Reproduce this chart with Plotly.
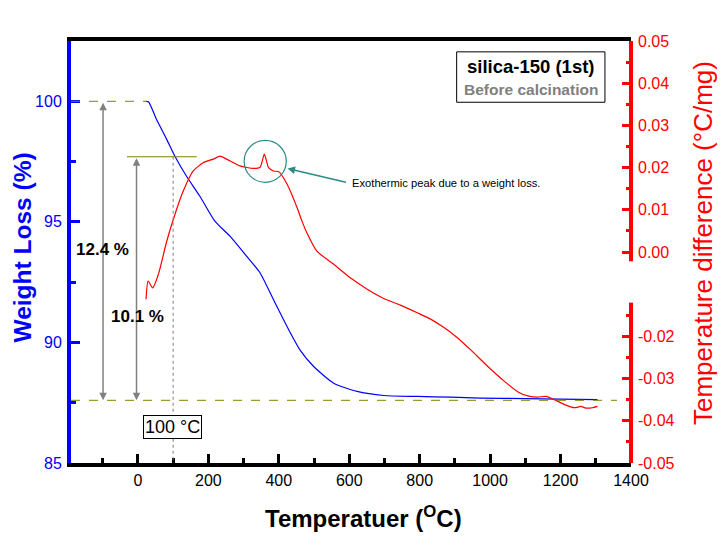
import plotly.graph_objects as go

# ---- data ----
temp_weight = [22, 30, 53, 82, 105, 138, 176, 219, 262, 309, 347, 385, 433, 461, 499,
               556, 622, 698, 793, 888, 973, 1100, 1200, 1305]
weight = [100, 99.98, 99.24, 98.41, 97.72, 96.89, 96.06, 95.02, 94.40, 93.57, 92.88,
          91.77, 90.39, 89.67, 89.0, 88.31, 87.97, 87.80, 87.76, 87.73, 87.69, 87.67,
          87.65, 87.63]

temp_dta = [23, 29, 42, 58, 82, 105, 129, 157, 186, 214, 233, 252, 290, 328, 347, 359,
            371, 385, 400, 424, 452, 465, 480, 508, 556, 603, 651, 698, 745, 793, 831,
            869, 907, 945, 992, 1040, 1078, 1107, 1135, 1159, 1182, 1210, 1239, 1258,
            1272, 1291, 1305]
dta = [-0.0112, -0.0069, -0.0085, -0.0053, 0.0026, 0.0089, 0.0145, 0.0192, 0.0212,
       0.0220, 0.0227, 0.0220, 0.0204, 0.0198, 0.0201, 0.0232, 0.0200, 0.0192, 0.0190,
       0.0160, 0.0105, 0.0075, 0.0045, 0.0002, -0.0029, -0.0061, -0.0088, -0.0110,
       -0.0126, -0.0144, -0.0159, -0.0179, -0.0203, -0.0232, -0.0270, -0.0306, -0.0331,
       -0.0341, -0.0344, -0.0342, -0.0350, -0.0361, -0.0369, -0.0366, -0.0370, -0.0369,
       -0.0366]

x_ticks = [0, 200, 400, 600, 800, 1000, 1200, 1400]
y2_major = [-0.05, -0.04, -0.03, -0.02, 0.00, 0.01, 0.02, 0.03, 0.04, 0.05]
y2_minor = [-0.045, -0.035, -0.025, -0.015, 0.005, 0.015, 0.025, 0.035, 0.045]

FONT = "Liberation Sans, Arial, sans-serif"
BLUE = "#0000ff"
RED = "#ff0000"
OLIVE = "#808000"
GRAY = "#808080"
TEAL = "#2e8a86"

fig = go.Figure()
fig.add_trace(go.Scatter(x=temp_weight, y=weight, mode="lines",
                         line=dict(color=BLUE, width=1.2, shape="spline", smoothing=0.6),
                         yaxis="y", showlegend=False))
fig.add_trace(go.Scatter(x=temp_dta, y=dta, mode="lines",
                         line=dict(color=RED, width=1.2, shape="spline", smoothing=0.6),
                         yaxis="y2", showlegend=False))

# page body adds an 8px margin, so the figure is drawn 8px smaller / shifted
fig.update_layout(
    width=719, height=543,
    margin=dict(l=63, r=96, t=33, b=88),
    plot_bgcolor="white", paper_bgcolor="white",
    font=dict(family=FONT, size=16, color="black"),
    xaxis=dict(range=[-190, 1400], tickvals=x_ticks, ticks="inside", ticklen=9,
               tickwidth=3, tickcolor="black", showline=True, linecolor="black",
               linewidth=4, mirror=True, showgrid=False, zeroline=False,
               tickfont=dict(size=16, color="black"),
               minor=dict(dtick=100, tick0=0, ticks="inside", ticklen=5, tickwidth=3,
                          tickcolor="black")),
    yaxis=dict(range=[85, 102.5], tick0=85, dtick=5, ticks="inside", ticklen=9,
               tickwidth=3, tickcolor=BLUE, showline=True, linecolor=BLUE, linewidth=4,
               showgrid=False, zeroline=False, tickfont=dict(size=16, color=BLUE),
               ticklabelstandoff=2,
               minor=dict(dtick=2.5, tick0=85, ticks="inside", ticklen=5, tickwidth=3,
                          tickcolor=BLUE)),
    yaxis2=dict(range=[-0.05, 0.05], overlaying="y", side="right", tickmode="array",
                tickvals=y2_major, ticktext=[f"{v:.2f}" for v in y2_major],
                ticks="inside", ticklen=9, tickwidth=3, tickcolor=RED, showline=False,
                showgrid=False, zeroline=False, tickfont=dict(size=16, color=RED),
                ticklabelstandoff=6,
                minor=dict(tickmode="array", tickvals=y2_minor, ticks="inside",
                           ticklen=5, tickwidth=3, tickcolor=RED)),
)

shapes = [
    # broken right axis line
    dict(type="line", xref="paper", yref="y2", x0=1, x1=1, y0=-0.05, y1=-0.012,
         line=dict(color=RED, width=4)),
    dict(type="line", xref="paper", yref="y2", x0=1, x1=1, y0=-0.0022, y1=0.05,
         line=dict(color=RED, width=4)),
    # reference lines
    dict(type="line", xref="x", yref="y", x0=-190, x1=26, y0=100, y1=100,
         line=dict(color=OLIVE, width=1, dash="dash")),
    dict(type="line", xref="x", yref="y", x0=-31, x1=167, y0=97.7, y1=97.7,
         line=dict(color=OLIVE, width=1.2)),
    dict(type="line", xref="x", yref="y", x0=-190, x1=1360, y0=87.6, y1=87.6,
         line=dict(color=OLIVE, width=1, dash="dash")),
    dict(type="line", xref="x", yref="y", x0=100, x1=100, y0=97.7, y1=85,
         line=dict(color=GRAY, width=1, dash="dot")),
    # circle around exothermic peak
    dict(type="circle", xref="x", yref="y", x0=301.6, x1=421.2, y0=96.64, y1=98.38,
         line=dict(color=TEAL, width=1.2)),
    # sample label box
    dict(type="rect", xref="x", yref="y", x0=905, x1=1326, y0=99.96, y1=102.05,
         line=dict(color="black", width=1), fillcolor="white", layer="below"),
]
fig.update_layout(shapes=shapes)

W, H = 560, 422  # plot area in px
def px(xp):
    return (xp - 71) / W
def py(yp):
    return (463 - yp) / H

ann = [
    # double-headed gray arrows
    dict(x=-99, y=87.6, ax=-99, ay=100, xref="x", yref="y", axref="x", ayref="y",
         text="", showarrow=True, arrowhead=2, arrowside="end+start", arrowsize=1,
         arrowwidth=1.5, arrowcolor=GRAY),
    dict(x=-4, y=87.6, ax=-4, ay=97.7, xref="x", yref="y", axref="x", ayref="y",
         text="", showarrow=True, arrowhead=2, arrowside="end+start", arrowsize=1,
         arrowwidth=1.5, arrowcolor=GRAY),
    dict(x=-101, y=93.85, xref="x", yref="y", text="<b>12.4 %</b>", showarrow=False,
         font=dict(size=17, color="black")),
    dict(x=-2, y=91.08, xref="x", yref="y", text="<b>10.1 %</b>", showarrow=False,
         font=dict(size=17, color="black")),
    dict(x=98, y=86.5, xref="x", yref="y", text="100 °C", showarrow=False,
         font=dict(size=18, color="black"), bordercolor="black", borderwidth=1,
         borderpad=1, bgcolor="white"),
    # teal arrow + text
    dict(x=424.9, y=97.21, ax=594.8, ay=96.63, xref="x", yref="y", axref="x",
         ayref="y", text="", showarrow=True, arrowhead=2, arrowsize=1, arrowwidth=1.5,
         arrowcolor=TEAL),
    dict(x=603, y=96.63, xref="x", yref="y", text="Exothermic peak due to a weight loss.",
         showarrow=False, xanchor="left", font=dict(size=11.2, color="black")),
    # sample label
    dict(x=1115, y=101.44, xref="x", yref="y", text="<b>silica-150 (1st)</b>",
         showarrow=False, font=dict(size=18.5, color="black")),
    dict(x=1115, y=100.49, xref="x", yref="y", text="<b>Before calcination</b>",
         showarrow=False, font=dict(size=15.5, color=GRAY)),
    # axis titles
    dict(x=px(21.5), y=py(248), xref="paper", yref="paper",
         text="<b>Weight Loss (%)</b>", textangle=-90, showarrow=False,
         xanchor="center", yanchor="middle", font=dict(size=24.5, color=BLUE)),
    dict(x=px(703), y=py(243), xref="paper", yref="paper",
         text="Temperature difference (°C/mg)", textangle=-90, showarrow=False,
         xanchor="center", yanchor="middle", font=dict(size=26, color=RED)),
    dict(x=px(363.5), y=py(517), xref="paper", yref="paper",
         text="<b>Temperatuer (<sup>O</sup>C)</b>", showarrow=False,
         xanchor="center", yanchor="middle", font=dict(size=24, color="black")),
]
fig.update_layout(annotations=ann)

fig.write_html("out.html")
